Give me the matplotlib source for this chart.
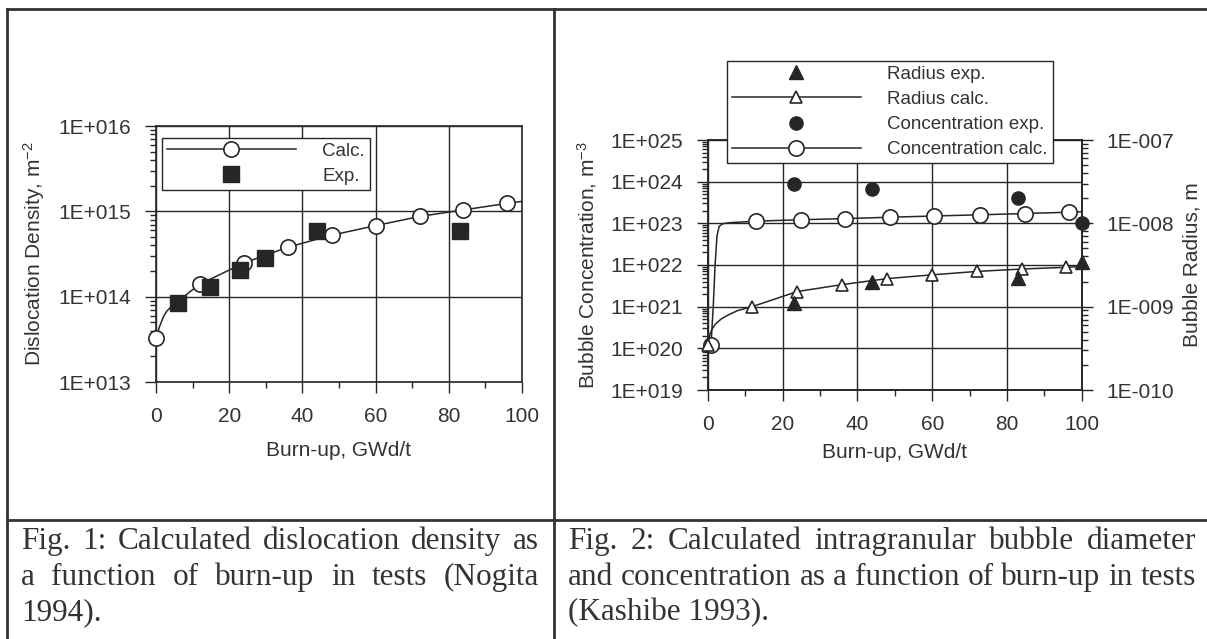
import numpy as np
import matplotlib
matplotlib.use("Agg")
import matplotlib.pyplot as plt
from matplotlib.ticker import FixedLocator, LogLocator, FuncFormatter, NullFormatter
from matplotlib.lines import Line2D

W, H = 1207, 639

# ---------------- Fig. 1: dislocation density ----------------
disl_calc_x = [0, 12, 24, 36, 48, 60, 72, 84, 96]
disl_calc_y = [3.3e13, 1.4e14, 2.48e14, 3.8e14, 5.25e14, 6.8e14, 8.7e14, 1.04e15, 1.24e15]
disl_curve_x = [0, 1, 2, 3, 4, 6, 9, 12, 24, 36, 48, 60, 72, 84, 96, 100]
disl_curve_y = [3.3e13, 4.5e13, 5.8e13, 6.8e13, 7.5e13, 8.7e13, 1.12e14, 1.4e14,
                2.48e14, 3.8e14, 5.25e14, 6.8e14, 8.7e14, 1.04e15, 1.24e15, 1.31e15]
disl_exp_x = [5.9, 14.8, 22.9, 29.8, 43.9, 83.0]
disl_exp_y = [8.5e13, 1.30e14, 2.07e14, 2.83e14, 5.96e14, 5.96e14]

# ---------------- Fig. 2: bubble radius and concentration ----------------
rad_calc_x = [0, 11.8, 23.9, 35.9, 47.9, 60.0, 72.1, 84.0, 95.9]
rad_calc_y = [3.5e-10, 1.0e-9, 1.52e-9, 1.84e-9, 2.17e-9, 2.41e-9, 2.65e-9, 2.83e-9, 2.97e-9]
rad_curve_x = [0, 0.5, 1.0, 2.0, 3.5, 5.5, 8.0, 11.8, 23.9, 35.9, 47.9, 60.0, 72.1, 84.0, 95.9, 100]
rad_curve_y = [3.5e-10, 4.6e-10, 5.3e-10, 6.2e-10, 7.1e-10, 8.0e-10, 9.0e-10, 1.0e-9,
               1.52e-9, 1.84e-9, 2.17e-9, 2.41e-9, 2.65e-9, 2.83e-9, 2.97e-9, 3.03e-9]
rad_exp_x = [23, 44, 83, 100]
rad_exp_y = [1.1e-9, 1.97e-9, 2.19e-9, 3.46e-9]

conc_calc_x = [0.8, 12.9, 24.8, 36.7, 48.6, 60.5, 72.7, 84.7, 96.7]
conc_calc_y = [1.2e20, 1.13e23, 1.22e23, 1.3e23, 1.4e23, 1.5e23, 1.6e23, 1.72e23, 1.85e23]
conc_curve_x = [0.8, 1.4, 1.9, 2.4, 3.0, 4.0, 6.0, 12.9, 24.8, 36.7, 48.6, 60.5, 72.7, 84.7, 96.7, 100]
conc_curve_y = [1.2e20, 1.0e21, 1.0e22, 5.0e22, 8.5e22, 9.8e22, 1.04e23, 1.13e23,
                1.22e23, 1.3e23, 1.4e23, 1.5e23, 1.6e23, 1.72e23, 1.85e23, 1.9e23]
conc_exp_x = [23, 44, 83, 100]
conc_exp_y = [8.7e23, 6.6e23, 4.0e23, 1.0e23]

x_major = [0, 20, 40, 60, 80, 100]
x_minor = [10, 30, 50, 70, 90]

caption_left = ["Fig. 1: Calculated dislocation density as",
                "a function of burn-up in tests (Nogita",
                "1994)."]
caption_right = ["Fig. 2: Calculated intragranular bubble diameter",
                 "and concentration as a function of burn-up in tests",
                 "(Kashibe 1993)."]

SANS = "Liberation Sans"
SERIF = "Liberation Serif"
INK = "#262626"
TXT = "#333333"
TICK_FS = 15
LEG_FS = 13.5

plt.rcParams["font.family"] = [SANS, "DejaVu Sans"]
plt.rcParams["mathtext.fontset"] = "custom"
plt.rcParams["mathtext.rm"] = SANS
plt.rcParams["mathtext.it"] = SANS + ":italic"
plt.rcParams["mathtext.bf"] = SANS + ":bold"

fig = plt.figure(figsize=(W / 100, H / 100), dpi=100)
fig.patch.set_facecolor("white")


def px_axes(x0, y_top, x1, y_bot):
    return fig.add_axes([x0 / W, 1 - y_bot / H, (x1 - x0) / W, (y_bot - y_top) / H])


def e_label(v, pos=None):
    e = int(round(np.log10(v)))
    return f"1E{'+' if e >= 0 else '-'}{abs(e):03d}"


def style_log_y(axis_owner, which_axis):
    which_axis.set_major_locator(LogLocator(base=10, numticks=20))
    which_axis.set_minor_locator(LogLocator(base=10, subs=np.arange(2, 10), numticks=20))
    which_axis.set_major_formatter(FuncFormatter(e_label))
    which_axis.set_minor_formatter(NullFormatter())
    axis_owner.tick_params(which="major", length=8, width=1.0, color=INK, direction="out",
                           labelsize=TICK_FS, labelcolor=TXT, pad=10)
    axis_owner.tick_params(which="minor", length=4, width=1.0, color=INK, direction="out")
    for s in axis_owner.spines.values():
        s.set_color(INK)
        s.set_linewidth(1.2)


def style_axes(ax, ylo, yhi):
    ax.set_xlim(0, 100)
    ax.set_yscale("log")
    ax.set_ylim(ylo, yhi)
    ax.xaxis.set_major_locator(FixedLocator(x_major))
    ax.xaxis.set_minor_locator(FixedLocator(x_minor))
    style_log_y(ax, ax.yaxis)
    ax.grid(True, which="major", color=INK, lw=1.0)
    ax.set_axisbelow(True)


def center_labels(*labels):
    for lab in labels:
        lab.set_va("center")
        lab.set_ha("center")


def legend_style(leg):
    leg.get_frame().set_linewidth(1.0)
    for t in leg.get_texts():
        t.set_color(TXT)


leg_kw = dict(loc="upper left", bbox_transform=fig.transFigure, borderaxespad=0,
              fancybox=False, framealpha=1, edgecolor=INK, fontsize=LEG_FS,
              handlelength=6.9, handletextpad=1.4, borderpad=0.25, labelspacing=0.43)

# ---------------- left panel ----------------
ax1 = px_axes(156, 126, 522, 382)
style_axes(ax1, 1e13, 1e16)
ax1.plot(disl_curve_x, disl_curve_y, color=INK, lw=1.1, zorder=3)
ax1.plot(disl_calc_x, disl_calc_y, ls="none", marker="o", ms=11, mfc="white", mec=INK,
         mew=1.2, zorder=4, clip_on=False)
ax1.plot(disl_exp_x, disl_exp_y, ls="none", marker="s", ms=11, color=INK, zorder=5,
         clip_on=False)
ax1.set_xlabel("Burn-up, GWd/t", fontsize=TICK_FS, color=TXT)
ax1.set_ylabel(r"Dislocation Density, m$^{\mathregular{-2}}$", fontsize=TICK_FS, color=TXT)
ax1.xaxis.set_label_coords(0.5, -(451 - 382) / 256)
ax1.yaxis.set_label_coords((34 - 156) / 366, 0.5)
center_labels(ax1.xaxis.label, ax1.yaxis.label)

leg1 = ax1.legend(
    handles=[Line2D([], [], color=INK, lw=1.1, marker="o", ms=11, mfc="white", mec=INK, mew=1.2),
             Line2D([], [], ls="none", marker="s", ms=11, color=INK)],
    labels=["Calc.", "Exp."], bbox_to_anchor=(162 / W, 1 - 138 / H), **leg_kw)
legend_style(leg1)

# ---------------- right panel ----------------
ax2 = px_axes(708, 140, 1081.7, 390)
style_axes(ax2, 1e19, 1e25)
ax2.tick_params(axis="y", which="both", right=False)

ax3 = ax2.twinx()
ax3.set_yscale("log")
ax3.set_ylim(1e-10, 1e-7)
style_log_y(ax3, ax3.yaxis)

ax3.plot(rad_curve_x, rad_curve_y, color=INK, lw=1.1, zorder=3)
ax3.plot(rad_calc_x, rad_calc_y, ls="none", marker="^", ms=9, mfc="white", mec=INK,
         mew=1.2, zorder=4, clip_on=False)
ax3.plot(rad_exp_x, rad_exp_y, ls="none", marker="^", ms=10, color=INK, zorder=5,
         clip_on=False)
ax2.plot(conc_curve_x, conc_curve_y, color=INK, lw=1.1, zorder=3)
ax2.plot(conc_calc_x, conc_calc_y, ls="none", marker="o", ms=11, mfc="white", mec=INK,
         mew=1.2, zorder=4, clip_on=False)
ax2.plot(conc_exp_x, conc_exp_y, ls="none", marker="o", ms=9.5, color=INK, zorder=5,
         clip_on=False)
ax3.set_ylim(1e-10, 1e-7)

ax2.set_xlabel("Burn-up, GWd/t", fontsize=TICK_FS, color=TXT)
ax2.set_ylabel(r"Bubble Concentration, m$^{\mathregular{-3}}$", fontsize=TICK_FS, color=TXT)
ax3.set_ylabel("Bubble Radius, m", fontsize=TICK_FS, color=TXT, rotation=90)
ax2.xaxis.set_label_coords(0.5, -(453 - 390) / 250)
ax2.yaxis.set_label_coords((587 - 708) / 373.7, 0.5)
ax3.yaxis.set_label_coords((1192 - 708) / 373.7, 0.5)
center_labels(ax2.xaxis.label, ax2.yaxis.label, ax3.yaxis.label)

leg2 = fig.legend(
    handles=[Line2D([], [], ls="none", marker="^", ms=10, color=INK),
             Line2D([], [], color=INK, lw=1.1, marker="^", ms=9, mfc="white", mec=INK, mew=1.2),
             Line2D([], [], ls="none", marker="o", ms=9.5, color=INK),
             Line2D([], [], color=INK, lw=1.1, marker="o", ms=11, mfc="white", mec=INK, mew=1.2)],
    labels=["Radius exp.", "Radius calc.", "Concentration exp.", "Concentration calc."],
    bbox_to_anchor=(727 / W, 1 - 61 / H), **leg_kw)
legend_style(leg2)

# ---------------- table frame ----------------
frame_kw = dict(color="#333333", lw=2.0, transform=fig.transFigure, figure=fig)
for xs, ys in [((7, W), (9, 9)), ((7, 7), (9, H)), ((554, 554), (9, H)), ((7, W), (520, 520))]:
    fig.add_artist(Line2D([x / W for x in xs], [1 - y / H for y in ys], **frame_kw))

# ---------------- captions (justified) ----------------
renderer = fig.canvas.get_renderer()
CAP_FS = 22.5
baselines = [549, 585, 620.7]


def justified(lines, x0, x1):
    for i, (line, yb) in enumerate(zip(lines, baselines)):
        words = line.split(" ")
        yf = 1 - yb / H
        if i == len(lines) - 1 or len(words) == 1:
            fig.text(x0 / W, yf, line, fontsize=CAP_FS, family=SERIF, color=TXT,
                     va="baseline", ha="left")
            continue
        texts = [fig.text(0, yf, w, fontsize=CAP_FS, family=SERIF, color=TXT,
                          va="baseline", ha="left") for w in words]
        widths = [t.get_window_extent(renderer=renderer).width for t in texts]
        gap = (x1 - x0 - sum(widths)) / (len(words) - 1)
        x = x0
        for t, wd in zip(texts, widths):
            t.set_x(x / W)
            x += wd + gap


justified(caption_left, 21, 539)
justified(caption_right, 568, 1196)

fig.savefig("out.png", dpi=100, facecolor="white")
